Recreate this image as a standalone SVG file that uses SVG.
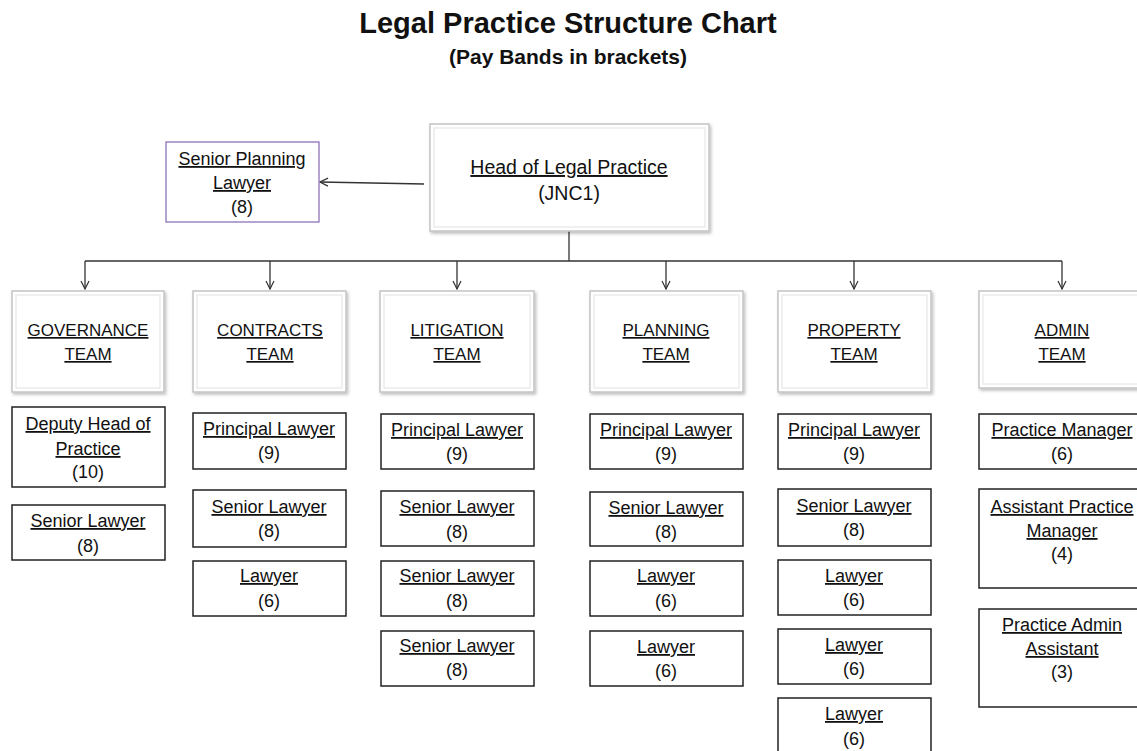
<svg xmlns="http://www.w3.org/2000/svg" width="1137" height="751" viewBox="0 0 1137 751">
<style>
text{font-family:"Liberation Sans",Arial,sans-serif;fill:#111;text-anchor:middle}
.t{font-size:18px;text-decoration:underline}
.n{font-size:18px}
.tt{font-size:17px;text-decoration:underline}
.h{font-size:19.5px}
.box{fill:#fff;stroke:#222;stroke-width:1.5}
.frame{fill:#fff;stroke:#c4c4c4;stroke-width:1.5}
.inner{fill:none;stroke:#ebebeb;stroke-width:1.5}
.conn{fill:none;stroke:#333;stroke-width:1.3}
</style>
<defs>
<marker id="arr" markerWidth="10" markerHeight="10" refX="9" refY="5" orient="auto" markerUnits="userSpaceOnUse">
<path d="M1,1 L9,5 L1,9" fill="none" stroke="#333" stroke-width="1.2"/>
</marker>
<filter id="sh" x="-5%" y="-5%" width="112%" height="115%">
<feDropShadow dx="1.5" dy="2" stdDeviation="1.5" flood-color="#000" flood-opacity="0.25"/>
</filter>
</defs>
<rect width="1137" height="751" fill="#fff"/>
<text x="568" y="33" font-size="29" font-weight="bold">Legal Practice Structure Chart</text>
<text x="568" y="64" font-size="21" font-weight="bold">(Pay Bands in brackets)</text>

<g id="connectors">
<line class="conn" x1="424" y1="184" x2="320" y2="182" marker-end="url(#arr)"/>
<line class="conn" x1="569" y1="231" x2="569" y2="261"/>
<line class="conn" x1="85" y1="261" x2="1062" y2="261"/>
<line class="conn" x1="85" y1="261" x2="85" y2="289" marker-end="url(#arr)"/>
<line class="conn" x1="270" y1="261" x2="270" y2="289" marker-end="url(#arr)"/>
<line class="conn" x1="457" y1="261" x2="457" y2="289" marker-end="url(#arr)"/>
<line class="conn" x1="666" y1="261" x2="666" y2="289" marker-end="url(#arr)"/>
<line class="conn" x1="854" y1="261" x2="854" y2="289" marker-end="url(#arr)"/>
<line class="conn" x1="1062" y1="261" x2="1062" y2="289" marker-end="url(#arr)"/>
</g>

<g id="head">
<rect class="frame" x="430" y="124" width="279" height="107" filter="url(#sh)"/>
<rect class="inner" x="434" y="128" width="271" height="99"/>
<text class="t h" x="569" y="174">Head of Legal Practice</text>
<text class="h" x="569" y="200">(JNC1)</text>
</g>

<g id="senior-planning">
<rect x="166" y="142" width="153" height="80" fill="#fff" stroke="#8e72b8" stroke-width="1.3"/>
<text class="t" x="242" y="165">Senior Planning</text>
<text class="t" x="242" y="189">Lawyer</text>
<text class="n" x="242" y="213">(8)</text>
</g>

<g id="team-governance">
<rect class="frame" x="12" y="291" width="152" height="101" filter="url(#sh)"/>
<rect class="inner" x="16" y="295" width="144" height="93"/>
<text class="tt" x="88" y="336">GOVERNANCE</text>
<text class="tt" x="88" y="360">TEAM</text>
</g>
<g id="team-contracts">
<rect class="frame" x="193" y="291" width="153" height="101" filter="url(#sh)"/>
<rect class="inner" x="197" y="295" width="145" height="93"/>
<text class="tt" x="270" y="336">CONTRACTS</text>
<text class="tt" x="270" y="360">TEAM</text>
</g>
<g id="team-litigation">
<rect class="frame" x="380" y="291" width="154" height="101" filter="url(#sh)"/>
<rect class="inner" x="384" y="295" width="146" height="93"/>
<text class="tt" x="457" y="336">LITIGATION</text>
<text class="tt" x="457" y="360">TEAM</text>
</g>
<g id="team-planning">
<rect class="frame" x="590" y="291" width="153" height="101" filter="url(#sh)"/>
<rect class="inner" x="594" y="295" width="145" height="93"/>
<text class="tt" x="666" y="336">PLANNING</text>
<text class="tt" x="666" y="360">TEAM</text>
</g>
<g id="team-property">
<rect class="frame" x="778" y="291" width="153" height="101" filter="url(#sh)"/>
<rect class="inner" x="782" y="295" width="145" height="93"/>
<text class="tt" x="854" y="336">PROPERTY</text>
<text class="tt" x="854" y="360">TEAM</text>
</g>
<g id="team-admin">
<rect class="frame" x="979" y="291" width="170" height="97" filter="url(#sh)"/>
<rect class="inner" x="983" y="295" width="162" height="89"/>
<text class="tt" x="1062" y="336">ADMIN</text>
<text class="tt" x="1062" y="360">TEAM</text>
</g>

<g id="gov-deputy">
<rect class="box" x="12" y="407" width="153" height="80"/>
<text class="t" x="88" y="430">Deputy Head of</text>
<text class="t" x="88" y="455">Practice</text>
<text class="n" x="88" y="478">(10)</text>
</g>
<g id="gov-senior">
<rect class="box" x="12" y="505" width="153" height="55"/>
<text class="t" x="88" y="527">Senior Lawyer</text>
<text class="n" x="88" y="552">(8)</text>
</g>

<g id="con-principal">
<rect class="box" x="193" y="413" width="153" height="56"/>
<text class="t" x="269" y="435">Principal Lawyer</text>
<text class="n" x="269" y="459">(9)</text>
</g>
<g id="con-senior">
<rect class="box" x="193" y="490" width="153" height="57"/>
<text class="t" x="269" y="513">Senior Lawyer</text>
<text class="n" x="269" y="537">(8)</text>
</g>
<g id="con-lawyer">
<rect class="box" x="193" y="561" width="153" height="55"/>
<text class="t" x="269" y="582">Lawyer</text>
<text class="n" x="269" y="607">(6)</text>
</g>

<g id="lit-principal">
<rect class="box" x="381" y="414" width="153" height="55"/>
<text class="t" x="457" y="436">Principal Lawyer</text>
<text class="n" x="457" y="460">(9)</text>
</g>
<g id="lit-senior-1">
<rect class="box" x="381" y="491" width="153" height="55"/>
<text class="t" x="457" y="513">Senior Lawyer</text>
<text class="n" x="457" y="538">(8)</text>
</g>
<g id="lit-senior-2">
<rect class="box" x="381" y="561" width="153" height="55"/>
<text class="t" x="457" y="582">Senior Lawyer</text>
<text class="n" x="457" y="607">(8)</text>
</g>
<g id="lit-senior-3">
<rect class="box" x="381" y="631" width="153" height="55"/>
<text class="t" x="457" y="652">Senior Lawyer</text>
<text class="n" x="457" y="676">(8)</text>
</g>

<g id="pla-principal">
<rect class="box" x="590" y="414" width="153" height="55"/>
<text class="t" x="666" y="436">Principal Lawyer</text>
<text class="n" x="666" y="460">(9)</text>
</g>
<g id="pla-senior">
<rect class="box" x="590" y="492" width="153" height="54"/>
<text class="t" x="666" y="514">Senior Lawyer</text>
<text class="n" x="666" y="538">(8)</text>
</g>
<g id="pla-lawyer-1">
<rect class="box" x="590" y="561" width="153" height="55"/>
<text class="t" x="666" y="582">Lawyer</text>
<text class="n" x="666" y="607">(6)</text>
</g>
<g id="pla-lawyer-2">
<rect class="box" x="590" y="631" width="153" height="55"/>
<text class="t" x="666" y="653">Lawyer</text>
<text class="n" x="666" y="677">(6)</text>
</g>

<g id="pro-principal">
<rect class="box" x="778" y="414" width="153" height="55"/>
<text class="t" x="854" y="436">Principal Lawyer</text>
<text class="n" x="854" y="460">(9)</text>
</g>
<g id="pro-senior">
<rect class="box" x="778" y="489" width="153" height="57"/>
<text class="t" x="854" y="512">Senior Lawyer</text>
<text class="n" x="854" y="536">(8)</text>
</g>
<g id="pro-lawyer-1">
<rect class="box" x="778" y="560" width="153" height="55"/>
<text class="t" x="854" y="582">Lawyer</text>
<text class="n" x="854" y="606">(6)</text>
</g>
<g id="pro-lawyer-2">
<rect class="box" x="778" y="629" width="153" height="55"/>
<text class="t" x="854" y="651">Lawyer</text>
<text class="n" x="854" y="675">(6)</text>
</g>
<g id="pro-lawyer-3">
<rect class="box" x="778" y="698" width="153" height="60"/>
<text class="t" x="854" y="720">Lawyer</text>
<text class="n" x="854" y="745">(6)</text>
</g>

<g id="adm-manager">
<rect class="box" x="979" y="414" width="170" height="55"/>
<text class="t" x="1062" y="436">Practice Manager</text>
<text class="n" x="1062" y="460">(6)</text>
</g>
<g id="adm-assistant-manager">
<rect class="box" x="979" y="489" width="170" height="99"/>
<text class="t" x="1062" y="513">Assistant Practice</text>
<text class="t" x="1062" y="537">Manager</text>
<text class="n" x="1062" y="560">(4)</text>
</g>
<g id="adm-admin-assistant">
<rect class="box" x="979" y="609" width="170" height="98"/>
<text class="t" x="1062" y="631">Practice Admin</text>
<text class="t" x="1062" y="655">Assistant</text>
<text class="n" x="1062" y="678">(3)</text>
</g>
</svg>
